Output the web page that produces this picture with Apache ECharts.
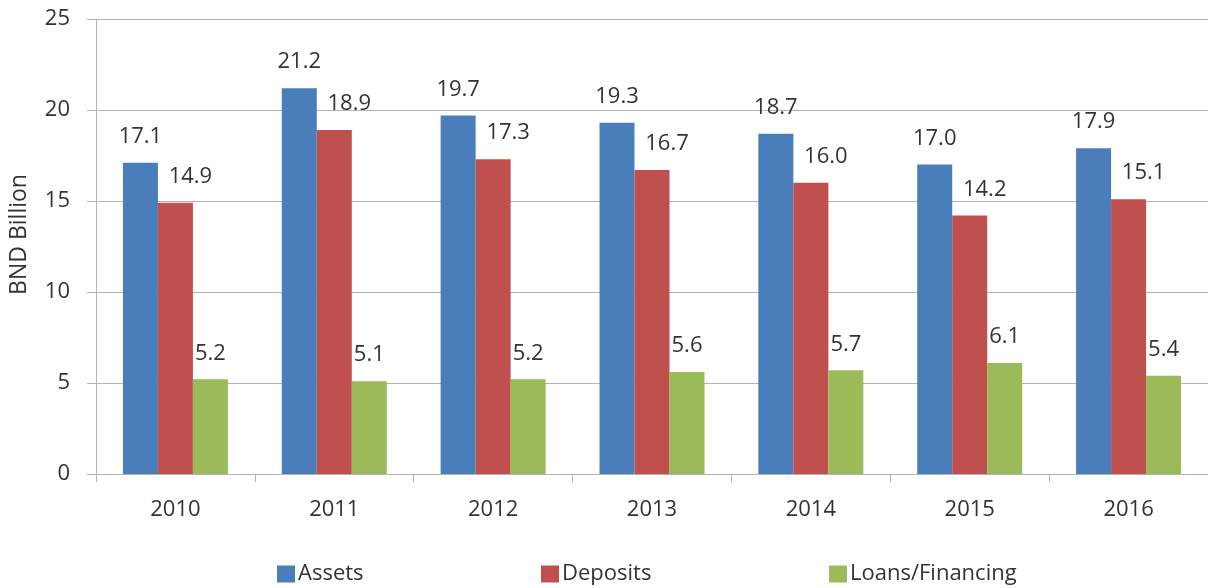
<!DOCTYPE html>
<html>
<head>
<meta charset="utf-8">
<script src="https://cdn.jsdelivr.net/npm/echarts@6/dist/echarts.min.js"></script>
<style>
  html, body { margin: 0; padding: 0; background: #fff; }
  #chart { width: 1208px; height: 588px; }
</style>
</head>
<body>
<div id="chart"></div>
<script>
const years = ['2010', '2011', '2012', '2013', '2014', '2015', '2016']
const assets = [17.1, 21.2, 19.7, 19.3, 18.7, 17.0, 17.9]
const deposits = [14.9, 18.9, 17.3, 16.7, 16.0, 14.2, 15.1]
const loans = [5.2, 5.1, 5.2, 5.6, 5.7, 6.1, 5.4]
const seriesNames = ['Assets', 'Deposits', 'Loans/Financing']

const font = 'Open Sans'
const textColor = '#333'
const gridColor = '#b4b4b4'

const label = (dx) => ({
  show: true,
  position: 'top',
  distance: 15,
  offset: [dx, 0],
  fontFamily: font,
  fontSize: 22,
  color: textColor,
  formatter: p => p.value.toFixed(1)
})

// one legend per item so each one sits where it sits in the picture
const legendAt = (name, left) => ({
  data: [name],
  left: left,
  top: 563,
  itemWidth: 18,
  itemHeight: 17,
  icon: 'rect',
  padding: 0,
  textStyle: { fontFamily: font, fontSize: 22, color: textColor, padding: [0, 0, 0, -2] }
})

const chart = echarts.init(document.getElementById('chart'))
chart.setOption({
  animation: false,
  color: ['#4a7ebb', '#c0504d', '#9bbb59'],
  grid: { left: 96, right: 0, top: 19, bottom: 114, outerBoundsMode: 'none', containLabel: false },
  legend: [
    legendAt(seriesNames[0], 277),
    legendAt(seriesNames[1], 541),
    legendAt(seriesNames[2], 829)
  ],
  xAxis: {
    type: 'category',
    data: years,
    axisLine: { lineStyle: { color: gridColor } },
    axisTick: { show: true, length: 8, lineStyle: { color: gridColor } },
    axisLabel: { fontFamily: font, fontSize: 22, color: textColor, margin: 25 }
  },
  yAxis: {
    type: 'value',
    min: 0,
    max: 25,
    interval: 5,
    name: 'BND Billion',
    nameLocation: 'middle',
    nameGap: 65,
    nameTextStyle: { fontFamily: font, fontSize: 23, color: textColor, padding: [0, 0, 0, 24] },
    axisLine: { show: true, lineStyle: { color: gridColor } },
    axisTick: { show: true, length: 9, lineStyle: { color: gridColor } },
    axisLabel: { fontFamily: font, fontSize: 22, color: textColor, margin: 26 },
    splitLine: { lineStyle: { color: gridColor } }
  },
  series: [
    { name: seriesNames[0], type: 'bar', data: assets, barWidth: 35, barGap: '0%', label: label(0) },
    { name: seriesNames[1], type: 'bar', data: deposits, barWidth: 35, barGap: '0%', label: label(15) },
    { name: seriesNames[2], type: 'bar', data: loans, barWidth: 35, barGap: '0%', label: label(0) }
  ]
})
</script>
</body>
</html>
